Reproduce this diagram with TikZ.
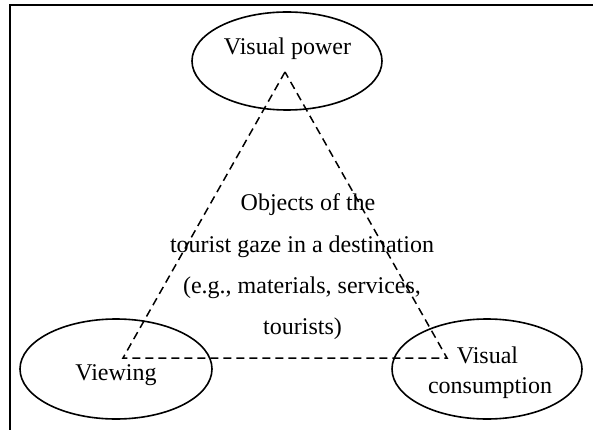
\documentclass[tikz,border=0pt]{standalone}
\usepackage{fontspec}
\setmainfont{Liberation Serif}
\usetikzlibrary{shapes.geometric}
\begin{document}
\begin{tikzpicture}[x=1pt,y=-1pt,
  bubble/.style={draw, ellipse, line width=1.6pt, inner sep=0pt},
  lbl/.style={inner sep=0pt, anchor=base, font=\fontsize{24}{29}\selectfont},
  link/.style={line width=1.5pt, dash pattern=on 8pt off 5pt}]
\useasboundingbox (0,0) rectangle (593,430);
\fill[white] (0,0) rectangle (593,430);
% frame (left and top edges visible)
\coordinate (fbl) at (10,431);
\coordinate (ftl) at (10,5);
\coordinate (ftr) at (594,5);
\draw[line width=2.2pt] (fbl) -- (ftl) -- (ftr);
% ellipses
\node[bubble, minimum width=190pt, minimum height=98pt] (vp) at (287,61) {};
\node[bubble, minimum width=192pt, minimum height=100pt] (vw) at (116,369) {};
\node[bubble, minimum width=190pt, minimum height=100pt] (vc) at (487,369) {};
% labels
\node[lbl] (tvp) at (287.5,55) {Visual power};
\node[lbl] (tvw) at (116,380) {Viewing};
\node[lbl] (tvc1) at (487.5,363) {Visual};
\node[lbl] (tvc2) at (490,393) {consumption};
\node[lbl] (o1) at (308,211) {Objects of the};
\node[lbl] (o2) at (302,252) {tourist gaze in a destination};
\node[lbl] (o3) at (302,293) {(e.g., materials, services,};
\node[lbl] (o4) at (302.5,334) {tourists)};
% triangle
\coordinate (pA) at (285,72);
\coordinate (pB) at (123,358);
\coordinate (pC) at (447,358);
\draw[link] (pA) -- (pB) -- (pC) -- cycle;
\end{tikzpicture}
\end{document}
